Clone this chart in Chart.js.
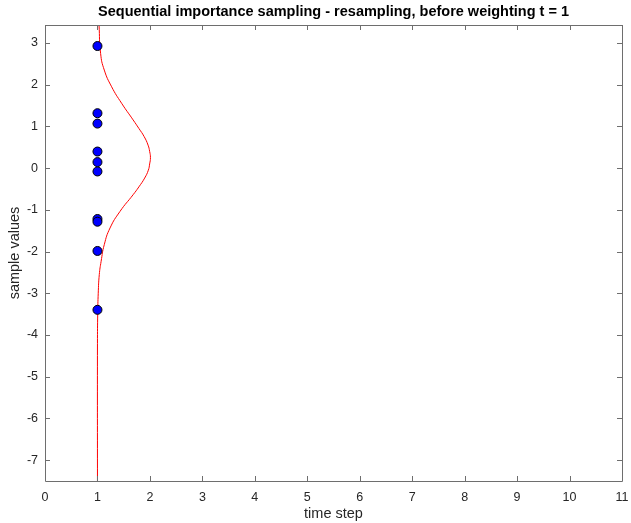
<!DOCTYPE html>
<html>
<head>
<meta charset="utf-8">
<script src="https://cdn.jsdelivr.net/npm/chart.js@4/dist/chart.umd.min.js"></script>
<style>
  html, body { margin: 0; padding: 0; background: #ffffff; }
  #wrap { width: 631px; height: 523px; }
</style>
</head>
<body>
<div id="wrap"><canvas id="c" width="631" height="523"></canvas></div>
<script>
const titleText = 'Sequential importance sampling - resampling, before weighting t = 1';
const xLabel = 'time step';
const yLabel = 'sample values';

const xTicks = [0, 1, 2, 3, 4, 5, 6, 7, 8, 9, 10, 11];
const yTicks = [-7, -6, -5, -4, -3, -2, -1, 0, 1, 2, 3];
const xRange = [0, 11];
const yRange = [-7.5, 3.43];

// samples (time step, value)
const sampleTime = [1, 1, 1, 1, 1, 1, 1, 1, 1, 1];
const sampleValues = [2.926, 1.316, 1.067, 0.397, 0.144, -0.081, -1.22, -1.285, -1.986, -3.397];

// red density curve (time position, value)
const curveTime = [1.03, 1.06, 1.13, 1.27, 1.46, 1.68, 1.79, 1.89, 1.965, 1.995, 2.01, 1.995, 1.97, 1.90, 1.79, 1.68, 1.43, 1.24, 1.13, 1.07, 1.035, 1.015, 1.005, 1.0, 1.0];
const curveValues = [3.43, 2.75, 2.35, 1.95, 1.555, 1.155, 0.95, 0.756, 0.55, 0.4, 0.25, 0.1, -0.05, -0.239, -0.45, -0.638, -1.038, -1.435, -1.835, -2.234, -2.553, -3.0, -3.5, -4.2, -7.5];

const textColor = '#262626';
const axisColor = '#6e6e6e';
const fontFamily = '"Liberation Sans", Arial, Helvetica, sans-serif';

const boxTicks = {
  id: 'boxTicks',
  afterDraw(chart) {
    const {ctx, chartArea: a, scales} = chart;
    const len = 5;
    ctx.save();
    ctx.strokeStyle = axisColor;
    ctx.lineWidth = 1;
    ctx.beginPath();
    ctx.rect(Math.round(a.left) + 0.5, Math.round(a.top) + 0.5, Math.round(a.right - a.left), Math.round(a.bottom - a.top));
    ctx.stroke();
    ctx.beginPath();
    xTicks.forEach(v => {
      const px = Math.round(scales.x.getPixelForValue(v)) + 0.5;
      ctx.moveTo(px, a.bottom); ctx.lineTo(px, a.bottom - len);
      ctx.moveTo(px, a.top); ctx.lineTo(px, a.top + len);
    });
    yTicks.forEach(v => {
      const py = Math.round(scales.y.getPixelForValue(v)) + 0.5;
      ctx.moveTo(a.left, py); ctx.lineTo(a.left + len, py);
      ctx.moveTo(a.right, py); ctx.lineTo(a.right - len, py);
    });
    ctx.stroke();
    ctx.restore();
  }
};

new Chart(document.getElementById('c'), {
  type: 'scatter',
  data: {
    datasets: [
      {
        label: 'samples',
        data: sampleTime.map((t, i) => ({x: t, y: sampleValues[i]})),
        backgroundColor: '#0000ff',
        borderColor: '#000000',
        borderWidth: 1,
        pointRadius: 4.5,
        order: 0
      },
      {
        label: 'density',
        data: curveTime.map((t, i) => ({x: t, y: curveValues[i]})),
        showLine: true,
        borderColor: '#ff0000',
        borderWidth: 1,
        pointRadius: 0,
        tension: 0.5,
        fill: false,
        order: 1
      }
    ]
  },
  options: {
    responsive: false,
    animation: false,
    layout: { padding: { left: 0, right: 9, top: 0, bottom: 0 } },
    plugins: {
      legend: { display: false },
      tooltip: { enabled: false },
      title: {
        display: true,
        fullSize: false,
        text: titleText,
        color: '#000000',
        font: { family: fontFamily, size: 14.5, weight: 'bold' },
        padding: { top: 3.5, bottom: 4.1 }
      }
    },
    scales: {
      x: {
        type: 'linear',
        min: xRange[0],
        max: xRange[1],
        grid: { display: false, drawTicks: false },
        border: { display: false },
        afterBuildTicks: s => { s.ticks = xTicks.map(v => ({value: v})); },
        afterFit: s => { s.height = 42; s.paddingLeft = 0; s.paddingRight = 0; },
        ticks: {
          color: textColor,
          font: { family: fontFamily, size: 12.5 },
          padding: 9,
          maxRotation: 0,
          autoSkip: false
        },
        title: {
          display: true,
          text: xLabel,
          color: textColor,
          font: { family: fontFamily, size: 14.5 },
          padding: { top: 0, bottom: 0 }
        }
      },
      y: {
        type: 'linear',
        min: yRange[0],
        max: yRange[1],
        grid: { display: false, drawTicks: false },
        border: { display: false },
        afterBuildTicks: s => { s.ticks = yTicks.map(v => ({value: v})); },
        afterFit: s => { s.width = 45; s.paddingTop = 0; s.paddingBottom = 0; },
        ticks: {
          color: textColor,
          font: { family: fontFamily, size: 12.5 },
          padding: 7,
          autoSkip: false
        },
        title: {
          display: true,
          text: yLabel,
          color: textColor,
          font: { family: fontFamily, size: 14.5 },
          padding: { top: 6, bottom: 0 }
        }
      }
    }
  },
  plugins: [boxTicks]
});
</script>
</body>
</html>
